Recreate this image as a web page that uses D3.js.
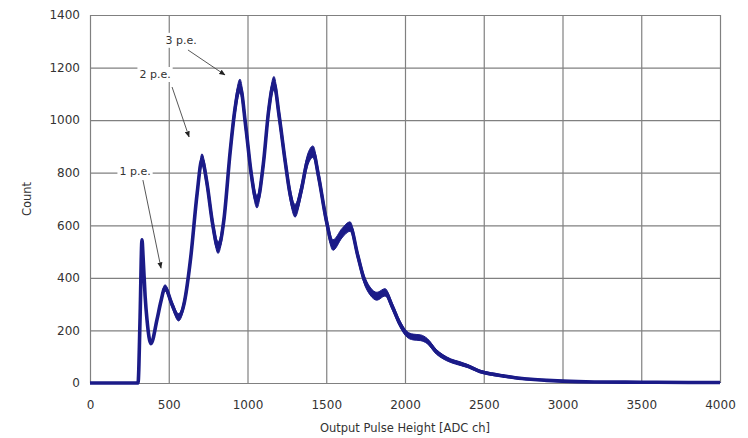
<!DOCTYPE html>
<html>
<head>
<meta charset="utf-8">
<script src="https://cdn.jsdelivr.net/npm/d3@7"></script>
<style>
  body { margin: 0; background: #fff; }
  svg text { font-family: "DejaVu Sans", Verdana, sans-serif; fill: #333; }
</style>
</head>
<body>
<svg id="chart"></svg>
<script>
  // spectrum: ADC channel, count, half-width of noise band
  var channels = [0, 300, 305, 318, 330, 337, 350, 362, 387, 425, 450, 476, 520, 562, 600, 640, 680, 711,
    740, 780, 813, 850, 890, 920, 952, 990, 1025, 1060, 1100, 1135, 1168, 1200, 1240, 1270, 1302,
    1340, 1380, 1416, 1450, 1500, 1543, 1600, 1651, 1700, 1740, 1778, 1822, 1873, 1920, 1968, 2013,
    2051, 2100, 2140, 2200, 2241, 2290, 2349, 2400, 2476, 2550, 2622, 2700, 2800, 2900, 3000, 3200,
    3500, 3800, 4000];
  var counts = [0, 0, 0, 250, 545, 480, 330, 240, 150, 240, 310, 362, 300, 250, 310, 480, 720, 850,
    770, 600, 515, 620, 880, 1040, 1130, 970, 790, 690, 830, 1040, 1140, 1020, 840, 720, 655,
    730, 845, 880, 790, 620, 525, 570, 595, 485, 395, 350, 330, 345, 290, 225, 185,
    175, 172, 160, 118, 100, 85, 74, 64, 44, 34, 27, 20, 14, 10, 7, 4,
    3, 2, 2];
  var spread = [0, 0, 0, 2, 3, 3, 4, 5, 6, 8, 10, 12, 12, 14, 15, 18, 20, 22,
    22, 22, 22, 22, 24, 26, 26, 26, 24, 24, 24, 26, 26, 26, 24, 24, 24,
    22, 22, 22, 22, 20, 20, 18, 18, 16, 16, 15, 15, 14, 13, 12, 11,
    11, 11, 10, 9, 8, 7, 7, 6, 5, 5, 4, 4, 3, 3, 3, 2,
    2, 2, 2];

  var xTicks = [0, 500, 1000, 1500, 2000, 2500, 3000, 3500, 4000];
  var yTicks = [0, 200, 400, 600, 800, 1000, 1200, 1400];

  // peak labels: text position and arrow start/tip, in data units
  var notes = [
    { text: "1 p.e.", x: 286, y: 806, x0: 336, y0: 772, x1: 451, y1: 437 },
    { text: "2 p.e.", x: 413, y: 1175, x0: 521, y0: 1126, x1: 629, y1: 936 },
    { text: "3 p.e.", x: 578, y: 1305, x0: 622, y0: 1267, x1: 857, y1: 1172 }
  ];

  var width = 748,
    height = 438,
    margin = { top: 15, right: 28, bottom: 55, left: 90 },
    w = width - margin.left - margin.right,
    h = height - margin.top - margin.bottom;

  var svg = d3.select("#chart")
    .attr("width", width)
    .attr("height", height);

  var defs = svg.append("defs");
  defs.append("marker")
    .attr("id", "head")
    .attr("viewBox", "0 0 10 10")
    .attr("refX", 9)
    .attr("refY", 5)
    .attr("markerWidth", 7)
    .attr("markerHeight", 7)
    .attr("orient", "auto")
    .append("path")
    .attr("d", "M0,1 L10,5 L0,9 z")
    .attr("fill", "#222");

  var g = svg.append("g")
    .attr("transform", "translate(" + margin.left + "," + margin.top + ")");

  var x = d3.scaleLinear().domain([0, 4000]).range([0, w]);
  var y = d3.scaleLinear().domain([0, 1400]).range([h, 0]);

  var xAxis = g.append("g")
    .attr("transform", "translate(0," + h + ")")
    .call(d3.axisBottom(x).tickValues(xTicks).tickSize(-h).tickPadding(17).tickFormat(d3.format("d")));
  var yAxis = g.append("g")
    .call(d3.axisLeft(y).tickValues(yTicks).tickSize(-w).tickPadding(10).tickFormat(d3.format("d")));

  [xAxis, yAxis].forEach(function(a) {
    a.select(".domain").remove();
    a.selectAll(".tick line").attr("stroke", "#808080").attr("stroke-width", 1.2);
    a.selectAll(".tick text").attr("font-size", 12).attr("fill", "#333");
  });

  var data = channels.map(function(c, i) {
    return { c: c, n: counts[i], s: spread[i] };
  });

  var band = d3.area()
    .x(function(d) { return x(d.c); })
    .y0(function(d) { return y(Math.max(0, d.n - d.s)); })
    .y1(function(d) { return y(d.n + d.s); })
    .curve(d3.curveMonotoneX);

  var line = d3.line()
    .x(function(d) { return x(d.c); })
    .y(function(d) { return y(d.n); })
    .curve(d3.curveMonotoneX);

  g.append("path")
    .datum(data)
    .attr("d", band)
    .attr("fill", "#1b1b88")
    .attr("stroke", "#1b1b88")
    .attr("stroke-width", 1);

  g.append("path")
    .datum(data)
    .attr("d", line)
    .attr("fill", "none")
    .attr("stroke", "#1b1b88")
    .attr("stroke-width", 3.6)
    .attr("stroke-linejoin", "round");

  // annotations
  notes.forEach(function(n) {
    var t = g.append("text")
      .attr("x", x(n.x))
      .attr("y", y(n.y))
      .attr("dy", "0.35em")
      .attr("text-anchor", "middle")
      .attr("font-size", 11)
      .text(n.text);
    var bb = t.node().getBBox();
    g.insert("rect", function() { return t.node(); })
      .attr("x", bb.x - 2)
      .attr("y", bb.y - 1)
      .attr("width", bb.width + 4)
      .attr("height", bb.height + 2)
      .attr("fill", "#fff");
    g.append("line")
      .attr("x1", x(n.x0))
      .attr("y1", y(n.y0))
      .attr("x2", x(n.x1))
      .attr("y2", y(n.y1))
      .attr("stroke", "#444")
      .attr("stroke-width", 0.9)
      .attr("marker-end", "url(#head)");
  });

  // axis titles
  svg.append("text")
    .attr("x", margin.left + w / 2)
    .attr("y", 432)
    .attr("text-anchor", "middle")
    .attr("font-size", 11.5)
    .text("Output Pulse Height [ADC ch]");

  svg.append("text")
    .attr("transform", "translate(31," + (margin.top + h / 2) + ") rotate(-90)")
    .attr("text-anchor", "middle")
    .attr("font-size", 11.5)
    .text("Count");
</script>
</body>
</html>
